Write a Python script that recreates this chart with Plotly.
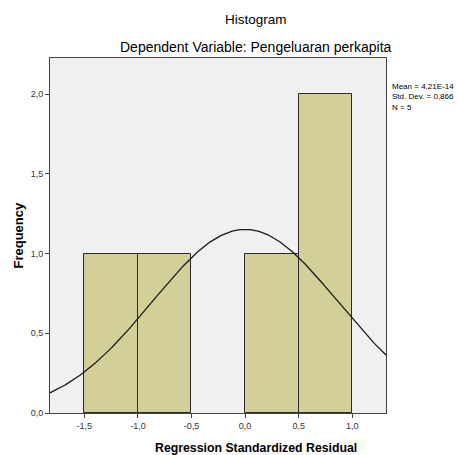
import numpy as np
import plotly.graph_objects as go

# Data
bin_left = [-1.5, -1.0, 0.0, 0.5]
bin_width = 0.5
counts = [1, 1, 1, 2]
mean_val = 4.21e-14
std_val = 0.866
n_val = 5

x_ticks = [-1.5, -1.0, -0.5, 0.0, 0.5, 1.0]
x_ticktext = ["-1,5", "-1,0", "-0,5", "0,0", "0,5", "1,0"]
y_ticks = [0.0, 0.5, 1.0, 1.5, 2.0]
y_ticktext = ["0,0", "0,5", "1,0", "1,5", "2,0"]

x_range = [-1.82, 1.315]
y_range = [0, 2.227]

centers = [b + bin_width / 2 for b in bin_left]

# Normal curve from reported mean / std dev / N (as drawn by SPSS)
xs = np.linspace(x_range[0], x_range[1], 300)
ys = n_val * bin_width / (std_val * np.sqrt(2 * np.pi)) * np.exp(-0.5 * ((xs - mean_val) / std_val) ** 2)

fig = go.Figure()
fig.add_trace(go.Bar(
    x=centers, y=counts, width=bin_width,
    marker=dict(color="#D3CF99", line=dict(color="#2a2a2a", width=1)),
    showlegend=False, hoverinfo="skip"))
fig.add_trace(go.Scatter(
    x=xs, y=ys, mode="lines", line=dict(color="#1a1a1a", width=1.3),
    showlegend=False, hoverinfo="skip"))

font_family = "Liberation Sans, Arial, sans-serif"

fig.update_layout(
    width=459, height=455,
    margin=dict(l=50, r=73, t=58, b=42),
    paper_bgcolor="white",
    plot_bgcolor="#F0F0F0",
    bargap=0,
    font=dict(family=font_family, size=9, color="#333333"),
    xaxis=dict(
        range=x_range, tickvals=x_ticks, ticktext=x_ticktext,
        showgrid=False, zeroline=False,
        ticks="outside", ticklen=4, tickcolor="#444444", tickwidth=1,
        showline=True, linecolor="#444444", linewidth=1, mirror=True,
        tickfont=dict(size=9, color="#333333"),
    ),
    yaxis=dict(
        range=y_range, tickvals=y_ticks, ticktext=y_ticktext,
        showgrid=False, zeroline=False,
        ticks="outside", ticklen=4, tickcolor="#444444", tickwidth=1,
        showline=True, linecolor="#444444", linewidth=1, mirror=True,
        tickfont=dict(size=9, color="#333333"),
    ),
    annotations=[
        dict(text="Histogram", xref="paper", yref="paper",
             x=0.613, y=1 + 38 / 355, xanchor="center", yanchor="middle",
             showarrow=False, font=dict(size=13.5, color="black", family=font_family)),
        dict(text="Dependent Variable: Pengeluaran perkapita", xref="paper", yref="paper",
             x=0.613, y=1 + 11 / 355, xanchor="center", yanchor="middle",
             showarrow=False, font=dict(size=14, color="black", family=font_family)),
        dict(text="<b>Frequency</b>", xref="paper", yref="paper",
             x=-32 / 336, y=0.5, xanchor="center", yanchor="middle", textangle=-90,
             showarrow=False, font=dict(size=13, color="black", family=font_family)),
        dict(text="<b>Regression Standardized Residual</b>", xref="paper", yref="paper",
             x=0.613, y=-35 / 355, xanchor="center", yanchor="middle",
             showarrow=False, font=dict(size=12.3, color="black", family=font_family)),
        dict(text=f"Mean = 4,21E-14<br>Std. Dev. = {str(std_val).replace('.', ',')}<br>N = {n_val}",
             xref="paper", yref="paper", x=1 + 4 / 336, y=(413 - 80) / 355,
             xanchor="left", yanchor="top", align="left",
             showarrow=False, font=dict(size=8, color="black", family=font_family)),
    ],
)

fig.write_html(
    "out.html",
    config={"displayModeBar": False},
    post_script="document.body.style.margin='0';document.body.style.overflow='hidden';",
)
